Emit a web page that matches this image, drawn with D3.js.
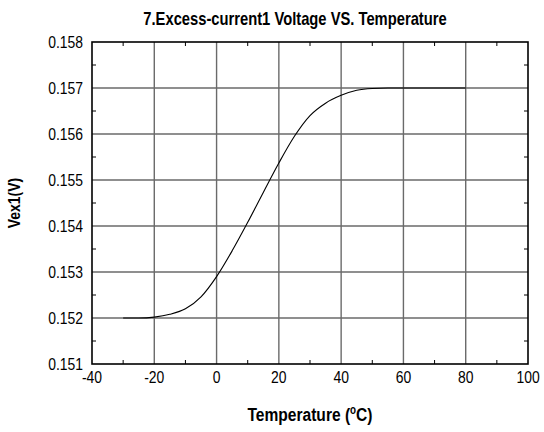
<!DOCTYPE html>
<html><head><meta charset="utf-8">
<script src="https://cdn.jsdelivr.net/npm/d3@7"></script>
<style>
html,body{margin:0;padding:0;background:#fff;}
svg text{font-family:"Liberation Sans Narrow","Arial Narrow","Liberation Sans",Arial,sans-serif;fill:#000;}
</style></head>
<body><svg id="chart" width="544" height="432"></svg>
<script>
const temperature = [-30,-25,-20,-15,-10,-5,0,5,10,15,20,25,30,35,40,45,50,55,60,65,70,75,80];
const vex1 = [0.15200,0.15200,0.15202,0.15208,0.15220,0.15246,0.15290,0.15346,0.15408,0.15473,0.15537,0.15595,0.15640,0.15667,0.15684,0.15695,0.15699,0.15700,0.15700,0.15700,0.15700,0.15700,0.15700];
const xTicks = [-40,-20,0,20,40,60,80,100];
const yTicks = [0.151,0.152,0.153,0.154,0.155,0.156,0.157,0.158];
const xMinor = [-30,-10,10,30,50,70,90];
const yMinor = [0.1515,0.1525,0.1535,0.1545,0.1555,0.1565,0.1575];
const titleText = "7.Excess-current1 Voltage VS. Temperature";
const yLabel = "Vex1(V)";

const svg = d3.select("#chart");
const m = {left:92, right:16, top:42, bottom:68};
const W = 544, H = 432;
const x = d3.scaleLinear().domain([-40,100]).range([m.left, W - m.right]);
const y = d3.scaleLinear().domain([0.151,0.158]).range([H - m.bottom, m.top]);
const NARROW = 0.82;

// grid
const g = svg.append("g");
g.selectAll(".vg").data(xTicks.slice(1,-1)).join("line")
  .attr("x1", d=>x(d)).attr("x2", d=>x(d)).attr("y1", y(0.151)).attr("y2", y(0.158))
  .attr("stroke","#6a6a6a").attr("stroke-width",1.4);
g.selectAll(".hg").data(yTicks.slice(1,-1)).join("line")
  .attr("y1", d=>y(d)).attr("y2", d=>y(d)).attr("x1", x(-40)).attr("x2", x(100))
  .attr("stroke","#6a6a6a").attr("stroke-width",1.4);

// minor ticks
const tl = 4;
g.selectAll(".mb").data(xMinor).join("line")
  .attr("x1", d=>x(d)).attr("x2", d=>x(d)).attr("y1", y(0.151)).attr("y2", y(0.151)-tl)
  .attr("stroke","#000").attr("stroke-width",1);
g.selectAll(".mt").data(xMinor).join("line")
  .attr("x1", d=>x(d)).attr("x2", d=>x(d)).attr("y1", y(0.158)).attr("y2", y(0.158)+tl)
  .attr("stroke","#000").attr("stroke-width",1);
g.selectAll(".ml").data(yMinor).join("line")
  .attr("y1", d=>y(d)).attr("y2", d=>y(d)).attr("x1", x(-40)).attr("x2", x(-40)+tl)
  .attr("stroke","#000").attr("stroke-width",1);
g.selectAll(".mr").data(yMinor).join("line")
  .attr("y1", d=>y(d)).attr("y2", d=>y(d)).attr("x1", x(100)).attr("x2", x(100)-tl)
  .attr("stroke","#000").attr("stroke-width",1);

// frame
svg.append("rect").attr("x", x(-40)).attr("y", y(0.158))
  .attr("width", x(100)-x(-40)).attr("height", y(0.151)-y(0.158))
  .attr("fill","none").attr("stroke","#000").attr("stroke-width",1.6);

// curve
const line = d3.line().x((d,i)=>x(temperature[i])).y(d=>y(d)).curve(d3.curveMonotoneX);
svg.append("path").datum(vex1).attr("d", line)
  .attr("fill","none").attr("stroke","#000").attr("stroke-width",1.1);

// tick labels (narrowed)
svg.selectAll(".xl").data(xTicks).join("text")
  .attr("transform", d=>`translate(${x(d)},${y(0.151)+19}) scale(${NARROW},1)`)
  .attr("text-anchor","middle").attr("font-size",17).text(d=>d);
svg.selectAll(".yl").data(yTicks).join("text")
  .attr("transform", d=>`translate(${x(-40)-9},${y(d)+6}) scale(${NARROW},1)`)
  .attr("text-anchor","end").attr("font-size",17).text(d=>d3.format(".3f")(d));

// titles
svg.append("text").attr("transform",`translate(295,25) scale(${NARROW},1)`)
  .attr("text-anchor","middle").attr("font-size",18).attr("font-weight","bold").text(titleText);
svg.append("text").attr("transform",`translate(20,${(y(0.151)+y(0.158))/2}) rotate(-90) scale(${NARROW},1)`)
  .attr("text-anchor","middle").attr("font-size",17).attr("font-weight","bold").text(yLabel);
const xt = svg.append("text").attr("transform",`translate(${x(30)},421) scale(${NARROW},1)`)
  .attr("text-anchor","middle").attr("font-size",19).attr("font-weight","bold");
xt.append("tspan").text("Temperature (");
xt.append("tspan").attr("font-size",12).attr("dy",-7).text("o");
xt.append("tspan").attr("dy",7).text("C)");
</script></body></html>
